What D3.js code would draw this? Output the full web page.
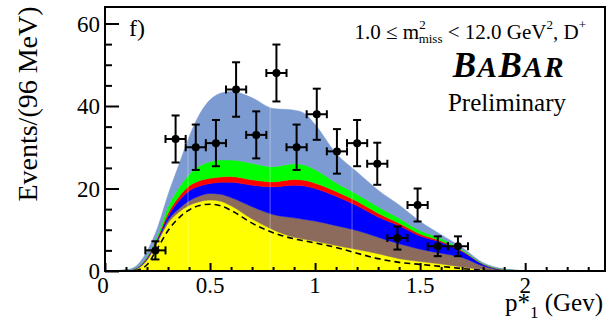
<!DOCTYPE html>
<html>
<head>
<meta charset="utf-8">
<script src="https://cdn.jsdelivr.net/npm/d3@7"></script>
<style>
  body { margin: 0; background: #fff; }
  text { font-family: "Liberation Serif", "Times New Roman", serif; fill: #000; }
</style>
</head>
<body>
<svg width="609" height="331"></svg>
<script>
var width = 609,
    height = 331;

// p*_1 grid (GeV) for the fit components
var pGrid = [0, 0.1, 0.15, 0.2, 0.25, 0.3, 0.35, 0.4, 0.45, 0.5, 0.55, 0.6, 0.7, 0.8, 0.9, 0.95,
             1.0, 1.1, 1.2, 1.3, 1.4, 1.5, 1.6, 1.7, 1.8, 1.9, 2.0, 2.38];

// stacked components, bottom to top
var yellowVals = [0, 0.1, 0.5, 2.6, 7.0, 11.6, 14.2, 15.9, 16.8, 17.2, 16.9, 15.8, 12.6, 10.0, 8.2, 7.7,
                  7.2, 6.2, 5.2, 4.2, 3.0, 2.3, 1.7, 1.0, 0.35, 0.05, 0, 0];
var brownVals  = [0, 0.02, 0.1, 0.3, 0.4, 0.7, 0.8, 1.1, 1.4, 1.6, 1.7, 2.0, 3.0, 3.7, 4.7, 4.8,
                  4.9, 4.8, 4.6, 4.0, 3.6, 3.0, 2.6, 2.3, 0.85, 0.15, 0.04, 0];
var blueVals   = [0, 0.03, 0.1, 0.2, 0.4, 1.0, 1.9, 2.4, 2.4, 2.4, 2.9, 3.7, 5.2, 6.7, 7.9, 8.1,
                  7.9, 7.1, 6.0, 4.9, 4.4, 3.2, 2.7, 1.4, 0.4, 0.1, 0.02, 0];
var redVals    = [0, 0.02, 0.05, 0.2, 0.3, 0.7, 1.0, 1.2, 1.3, 1.3, 1.3, 1.4, 1.3, 1.2, 1.4, 1.4,
                  1.3, 1.2, 1.1, 0.9, 0.6, 0.5, 0.3, 0.2, 0.1, 0.05, 0.01, 0];
var greenVals  = [0, 0.03, 0.05, 0.2, 0.6, 1.6, 2.1, 2.8, 3.6, 4.0, 4.1, 4.0, 4.0, 3.7, 3.8, 3.7,
                  3.3, 2.1, 1.7, 1.6, 1.2, 0.8, 0.6, 0.3, 0.1, 0.05, 0.01, 0];
var lightVals  = [0, 0.1, 0.5, 1.3, 1.8, 2.9, 5.5, 9.1, 12.5, 15.0, 16.2, 16.6, 15.9, 14.1, 13.0, 12.5,
                  10.9, 7.1, 5.4, 4.0, 3.2, 2.2, 0.9, 0.5, 0.2, 0.1, 0.02, 0];

// dashed curve inside the yellow component
var dashVals   = [0, 0, 0.2, 1.5, 5.5, 9.8, 12.8, 14.8, 15.9, 16.2, 15.8, 14.7, 11.6, 9.3, 7.8, 7.3,
                  6.8, 5.7, 4.3, 3.0, 2.1, 1.6, 1.1, 0.6, 0.2, 0.05, 0, 0];

// data points: bin centres, events, errors
var dataP   = [0.24, 0.336, 0.432, 0.528, 0.624, 0.72, 0.816, 0.912, 1.008, 1.104, 1.2, 1.296, 1.392, 1.488, 1.584, 1.68];
var dataN   = [5, 32, 30, 31, 44, 33, 48, 30, 38, 29, 31, 26, 8, 16, 6, 6];
var dataErr = [2.2, 5.7, 5.5, 5.6, 6.6, 5.7, 6.9, 5.5, 6.2, 5.4, 5.6, 5.1, 2.8, 4.0, 2.4, 2.4];
var binHalf = 0.048;

var xTicks = [0, 0.5, 1, 1.5, 2];
var xTickLabels = ["0", "0.5", "1", "1.5", "2"];
var yTicks = [0, 20, 40, 60];

var layerColors = ["#ffff00", "#8c6b5d", "#0000ff", "#ff0000", "#00ff00", "#7b9bd2"];

var margin = {left: 105, right: 4, top: 7, bottom: 60};

var x = d3.scaleLinear().domain([0, 2.38]).range([margin.left, width - margin.right]);
var y = d3.scaleLinear().domain([0, 64]).range([height - margin.bottom, margin.top]);

var svg = d3.select("svg");

var table = pGrid.map(function (p, i) {
    return {p: p, yellow: yellowVals[i], brown: brownVals[i], blue: blueVals[i],
            red: redVals[i], green: greenVals[i], light: lightVals[i]};
});

var stack = d3.stack().keys(["yellow", "brown", "blue", "red", "green", "light"]);
var series = stack(table);

var area = d3.area()
    .curve(d3.curveMonotoneX)
    .x(function (d) { return x(d.data.p); })
    .y0(function (d) { return y(d[0]); })
    .y1(function (d) { return y(d[1]); });

svg.append("g")
    .selectAll("path")
    .data(series)
    .enter()
    .append("path")
    .attr("fill", function (d, i) { return layerColors[i]; })
    .attr("stroke", function (d, i) { return layerColors[i]; })
    .attr("stroke-width", 0.5)
    .attr("d", area);

// faint bin seams visible in the original
svg.append("g")
    .selectAll("line")
    .data([0.395, 0.786, 1.176])
    .enter()
    .append("line")
    .attr("x1", function (d) { return x(d); })
    .attr("x2", function (d) { return x(d); })
    .attr("y1", y(0))
    .attr("y2", y(45))
    .attr("stroke", "#fff")
    .attr("stroke-opacity", 0.35)
    .attr("stroke-width", 1);

var dashLine = d3.line()
    .curve(d3.curveMonotoneX)
    .x(function (d, i) { return x(pGrid[i]); })
    .y(function (d) { return y(d); });

svg.append("path")
    .datum(dashVals)
    .attr("fill", "none")
    .attr("stroke", "#000")
    .attr("stroke-width", 1.6)
    .attr("stroke-dasharray", "6,4")
    .attr("d", dashLine);

// baseline tail
svg.append("line")
    .attr("x1", x(0)).attr("x2", x(2.38))
    .attr("y1", y(0)).attr("y2", y(0))
    .attr("stroke", "#6b6b20").attr("stroke-width", 1);

// data points with error bars
var pts = svg.append("g")
    .selectAll("g")
    .data(dataP.map(function (p, i) { return {p: p, n: dataN[i], e: dataErr[i]}; }))
    .enter()
    .append("g")
    .attr("stroke", "#000")
    .attr("stroke-width", 2);

pts.append("line")
    .attr("x1", function (d) { return x(d.p); })
    .attr("x2", function (d) { return x(d.p); })
    .attr("y1", function (d) { return y(d.n - d.e); })
    .attr("y2", function (d) { return y(d.n + d.e); });
pts.append("line")
    .attr("x1", function (d) { return x(d.p - binHalf); })
    .attr("x2", function (d) { return x(d.p + binHalf); })
    .attr("y1", function (d) { return y(d.n); })
    .attr("y2", function (d) { return y(d.n); });
[-1, 1].forEach(function (s) {
    pts.append("line")
        .attr("x1", function (d) { return x(d.p) - 4; })
        .attr("x2", function (d) { return x(d.p) + 4; })
        .attr("y1", function (d) { return y(d.n + s * d.e); })
        .attr("y2", function (d) { return y(d.n + s * d.e); });
    pts.append("line")
        .attr("x1", function (d) { return x(d.p + s * binHalf); })
        .attr("x2", function (d) { return x(d.p + s * binHalf); })
        .attr("y1", function (d) { return y(d.n) - 4; })
        .attr("y2", function (d) { return y(d.n) + 4; });
});
pts.append("circle")
    .attr("cx", function (d) { return x(d.p); })
    .attr("cy", function (d) { return y(d.n); })
    .attr("r", 4)
    .attr("fill", "#000")
    .attr("stroke", "none");

// frame
svg.append("rect")
    .attr("x", x(0)).attr("y", y(64))
    .attr("width", x(2.38) - x(0)).attr("height", y(0) - y(64))
    .attr("fill", "none").attr("stroke", "#000").attr("stroke-width", 2);

// axes with inward ticks
var xAxis = d3.axisTop(x)
    .tickValues(d3.range(0, 2.381, 0.1))
    .tickSize(4)
    .tickFormat("");
svg.append("g")
    .attr("transform", "translate(0," + y(0) + ")")
    .call(xAxis)
    .call(function (g) { g.select(".domain").remove(); })
    .selectAll(".tick line")
    .attr("stroke-width", 2)
    .attr("y2", function (d) { return Math.abs(d * 2 - Math.round(d * 2)) < 1e-6 ? -8 : -4; });

var yAxis = d3.axisRight(y)
    .tickValues(d3.range(0, 64, 5))
    .tickSize(7)
    .tickFormat("");
svg.append("g")
    .attr("transform", "translate(" + x(0) + ",0)")
    .call(yAxis)
    .call(function (g) { g.select(".domain").remove(); })
    .selectAll(".tick line")
    .attr("stroke-width", 2)
    .attr("x2", function (d) { return d % 20 === 0 ? 14 : 7; });

svg.append("g")
    .selectAll("text")
    .data(xTicks)
    .enter()
    .append("text")
    .attr("x", function (d) { return x(d) - (d === 0 ? 2 : 0); })
    .attr("y", y(0) + 22)
    .attr("text-anchor", "middle")
    .attr("font-size", 23)
    .text(function (d, i) { return xTickLabels[i]; });

svg.append("g")
    .selectAll("text")
    .data(yTicks)
    .enter()
    .append("text")
    .attr("x", x(0) - 5)
    .attr("y", function (d) { return y(d) + 8; })
    .attr("text-anchor", "end")
    .attr("font-size", 23)
    .text(function (d) { return d; });

// axis titles
svg.append("text")
    .attr("transform", "translate(37,104) rotate(-90)")
    .attr("text-anchor", "middle")
    .attr("font-size", 28)
    .text("Events/(96 MeV)");

var xt = svg.append("text")
    .attr("x", 603)
    .attr("y", 311)
    .attr("text-anchor", "end")
    .attr("font-size", 25);
xt.append("tspan").text("p*");
xt.append("tspan").attr("font-size", 17).attr("dy", 7).text("1");
xt.append("tspan").attr("dy", -7).text(" (Gev)");

// labels inside the plot
svg.append("text")
    .attr("x", 129).attr("y", 36)
    .attr("font-size", 24)
    .text("f)");

var t = svg.append("text")
    .attr("x", 586).attr("y", 39)
    .attr("text-anchor", "end")
    .attr("font-size", 21);
t.append("tspan").text("1.0 \u2264 m");
t.append("tspan").attr("font-size", 13).attr("dy", -10).text("2");
t.append("tspan").attr("font-size", 13).attr("dy", 14).attr("dx", -7).text("miss");
t.append("tspan").attr("dy", -4).text(" < 12.0 GeV");
t.append("tspan").attr("font-size", 13).attr("dy", -10).text("2");
t.append("tspan").attr("dy", 10).text(", D");
t.append("tspan").attr("font-size", 13).attr("dy", -10).text("+");

var bb = svg.append("text")
    .attr("x", 565).attr("y", 77)
    .attr("text-anchor", "end")
    .attr("font-weight", "bold")
    .attr("font-style", "italic")
    .attr("letter-spacing", 1.5);
bb.append("tspan").attr("font-size", 35).text("B");
bb.append("tspan").attr("font-size", 29).text("A");
bb.append("tspan").attr("font-size", 35).text("B");
bb.append("tspan").attr("font-size", 29).text("AR");

svg.append("text")
    .attr("x", 566).attr("y", 111)
    .attr("text-anchor", "end")
    .attr("font-size", 25)
    .text("Preliminary");
</script>
</body>
</html>
